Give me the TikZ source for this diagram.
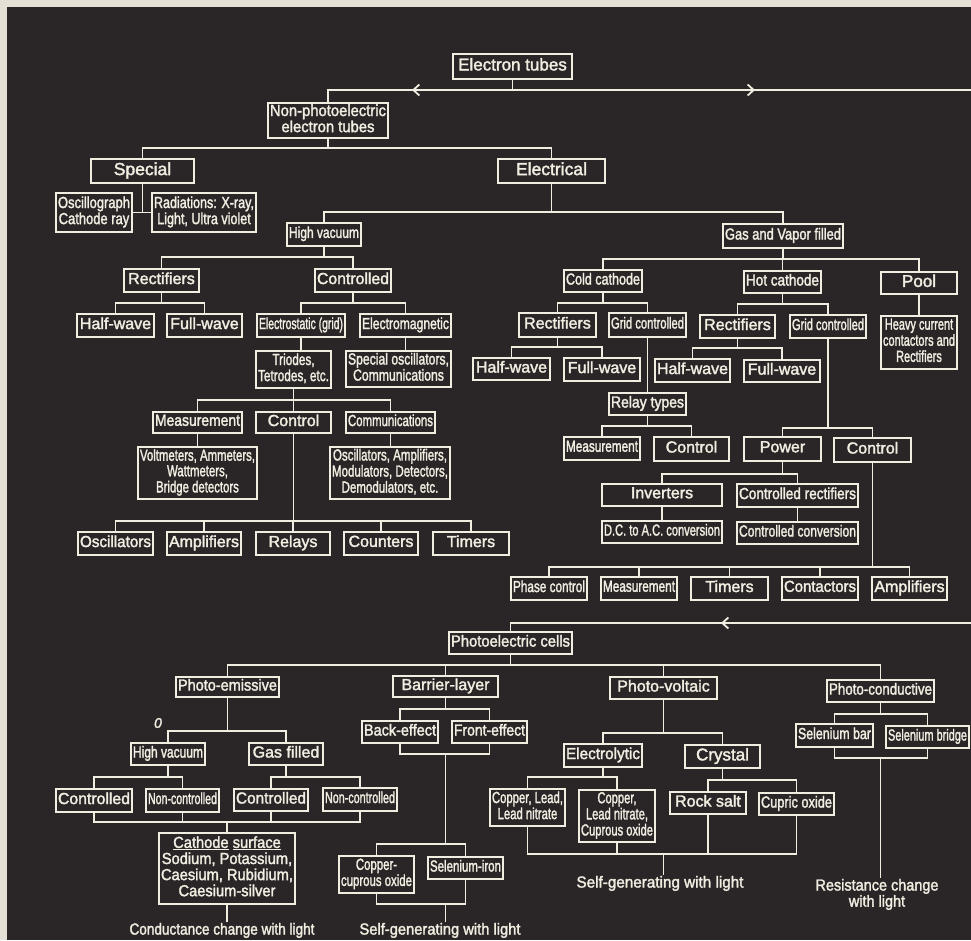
\documentclass[tikz,border=0pt]{standalone}
\usepackage{fontspec}
\setmainfont{Liberation Sans}
\newfontfamily\lf{Liberation Sans}[FakeBold=2]
\usepackage{graphicx}
\usetikzlibrary{arrows.meta,decorations.markings}
\definecolor{bg}{RGB}{42,38,40}
\definecolor{fg}{RGB}{240,238,225}
\definecolor{paper}{RGB}{228,224,214}
\newsavebox\fbx
\newlength\fbw
\newcommand\fitt[2]{\sbox\fbx{\begin{tabular}{@{}c@{}}#2\end{tabular}}\setlength\fbw{\wd\fbx}\pgfmathsetmacro\ff{min(1,(#1)/\fbw)}\scalebox{\ff}[1]{\usebox\fbx}}
\tikzset{
  bx/.style={draw=fg, line width=1.8pt, fill=bg, inner sep=0pt, text=fg},
  ln/.style={draw=fg, line width=1.8pt, line cap=rect},
  lbl/.style={text=fg, inner sep=2pt, font={\lf\fontsize{16}{15}\selectfont}},
  chev/.style={decoration={markings,#1}, postaction={decorate}},
}
\newcommand\bxn[7][16]{\node[bx,minimum width={#5-#3},minimum height={#6-#4},font={\lf\fontsize{#1}{15}\selectfont}] (#2) at ({(#3+#5)/2},{(#4+#6)/2}) {\fitt{#5-#3-4}{#7}};}
\begin{document}
\begin{tikzpicture}[x=1pt,y=-1pt,color=fg]
\useasboundingbox (0,0) rectangle (971,940);
\fill[paper] (0,0) rectangle (971,940);
\fill[bg] (7,7) rectangle (971,940);
% ---------- top ----------
\bxn[17]{et}{453}{54}{572}{79}{Electron tubes}
\bxn[16]{npe}{268}{103}{388}{138}{Non-photoelectric\\electron tubes}
\bxn[17.5]{special}{91}{159}{194}{183}{Special}
\bxn[17.5]{electrical}{498}{159}{605}{183}{Electrical}
\bxn[16]{osc}{56}{193}{132}{232}{Oscillograph\\Cathode ray}
\bxn[16]{rad}{152}{193}{256}{232}{Radiations: X-ray,\\Light, Ultra violet}
\bxn[15.5]{hv}{287}{223}{361}{246}{High vacuum}
\bxn[16]{gas}{723}{224}{843}{248}{Gas and Vapor filled}
% ---------- high vacuum ----------
\bxn{rect1}{124}{269}{199}{292}{Rectifiers}
\bxn{ctrl1}{315}{269}{391}{292}{Controlled}
\bxn{hw1}{77}{314}{154}{337}{Half-wave}
\bxn{fw1}{167}{314}{242}{337}{Full-wave}
\bxn{es}{257}{314}{345}{337}{Electrostatic (grid)}
\bxn{em}{360}{314}{451}{337}{Electromagnetic}
\bxn{tri}{256}{351}{331}{388}{Triodes,\\Tetrodes, etc.}
\bxn{so}{346}{351}{451}{387}{Special oscillators,\\Communications}
\bxn{meas1}{153}{412}{242}{433}{Measurement}
\bxn{ctl1}{256}{412}{331}{433}{Control}
\bxn{comm}{346}{412}{435}{433}{Communications}
\bxn{volt}{138}{447}{257}{499}{Voltmeters, Ammeters,\\Wattmeters,\\Bridge detectors}
\bxn{oamp}{330}{447}{450}{499}{Oscillators, Amplifiers,\\Modulators, Detectors,\\Demodulators, etc.}
\bxn{b1}{78}{532}{153}{555}{Oscillators}
\bxn{b2}{167}{532}{241}{555}{Amplifiers}
\bxn{b3}{256}{532}{330}{555}{Relays}
\bxn{b4}{344}{532}{418}{555}{Counters}
\bxn{b5}{433}{532}{509}{555}{Timers}
% ---------- gas ----------
\bxn{cold}{564}{270}{642}{292}{Cold cathode}
\bxn{hot}{744}{271}{821}{293}{Hot cathode}
\bxn[17]{pool}{881}{272}{957}{294}{Pool}
\bxn{rect2}{519}{313}{596}{337}{Rectifiers}
\bxn{gc1}{609}{313}{686}{337}{Grid controlled}
\bxn{hw2}{473}{358}{550}{380}{Half-wave}
\bxn{fw2}{564}{358}{640}{381}{Full-wave}
\bxn{relay}{609}{393}{686}{415}{Relay types}
\bxn{meas2}{564}{437}{640}{460}{Measurement}
\bxn{ctl2}{654}{437}{729}{461}{Control}
\bxn{rect3}{700}{315}{775}{338}{Rectifiers}
\bxn{gc2}{790}{315}{866}{338}{Grid controlled}
\bxn{hw3}{655}{359}{730}{382}{Half-wave}
\bxn{fw3}{744}{360}{820}{382}{Full-wave}
\bxn{power}{744}{437}{821}{461}{Power}
\bxn{ctl3}{834}{438}{911}{462}{Control}
\bxn{inv}{602}{484}{722}{506}{Inverters}
\bxn{crect}{737}{484}{858}{507}{Controlled rectifiers}
\bxn{dcac}{602}{521}{722}{543}{D.C. to A.C. conversion}
\bxn{cconv}{737}{522}{858}{544}{Controlled conversion}
\bxn{p1}{511}{577}{587}{600}{Phase control}
\bxn{p2}{601}{577}{677}{600}{Measurement}
\bxn{p3}{691}{577}{768}{600}{Timers}
\bxn{p4}{782}{577}{858}{600}{Contactors}
\bxn{p5}{872}{577}{947}{600}{Amplifiers}
\bxn{heavy}{881}{316}{957}{369}{Heavy current\\contactors and\\Rectifiers}
% ---------- photoelectric ----------
\bxn{pc}{449}{632}{572}{654}{Photoelectric cells}
\bxn{pem}{176}{677}{279}{697}{Photo-emissive}
\bxn{bar}{393}{676}{498}{697}{Barrier-layer}
\bxn{pv}{610}{677}{717}{699}{Photo-voltaic}
\bxn{pcd}{827}{680}{934}{702}{Photo-conductive}
\bxn{hv2}{131}{743}{205}{765}{High vacuum}
\bxn{gf}{249}{743}{323}{765}{Gas filled}
\bxn{c1}{56}{789}{132}{812}{Controlled}
\bxn{n1}{146}{789}{219}{812}{Non-controlled}
\bxn{c2}{234}{789}{308}{811}{Controlled}
\bxn{n2}{323}{788}{397}{811}{Non-controlled}
\bxn{cath}{159}{833}{295}{904}{\underline{Cathode} \underline{surface}\\Sodium, Potassium,\\Caesium, Rubidium,\\Caesium-silver}
\bxn{back}{362}{721}{438}{743}{Back-effect}
\bxn{front}{452}{721}{527}{743}{Front-effect}
\bxn{cu}{339}{856}{414}{893}{Copper-\\cuprous oxide}
\bxn{se}{428}{857}{503}{879}{Selenium-iron}
\bxn{elec}{564}{744}{642}{767}{Electrolytic}
\bxn[17]{cry}{685}{745}{760}{768}{Crystal}
\bxn{cl1}{490}{789}{565}{826}{Copper, Lead,\\Lead nitrate}
\bxn{cl2}{579}{790}{655}{842}{Copper,\\Lead nitrate,\\Cuprous oxide}
\bxn{rs}{670}{792}{746}{814}{Rock salt}
\bxn{co}{759}{793}{834}{815}{Cupric oxide}
\bxn{sb}{796}{724}{873}{747}{Selenium bar}
\bxn{sbr}{886}{726}{969}{748}{Selenium bridge}
\node[lbl] (t1) at (222,931) {\fitt{185}{Conductance change with light}};
\node[lbl] (t2) at (440,931) {\fitt{161}{Self-generating with light}};
\node[lbl] (t3) at (660,884) {\fitt{167}{Self-generating with light}};
\node[lbl] (t4) at (877,895) {\fitt{123}{Resistance change\\with light}};
\node[text=fg, font={\lf\itshape\fontsize{14}{14}\selectfont}, inner sep=0pt] (zero) at (158,723) {0};
% ---------- connectors: top ----------
\coordinate (j0) at (et.south |- 0,90);
\coordinate (edgeA) at (975,90);
\coordinate (edgeB) at (975,623);
\draw[ln] (et.south) -- (j0);
\draw[ln, chev={mark=at position 100.5pt with {\arrow{Straight Barb[length=6pt,width=11pt]}}}] (j0) -- (npe.north |- j0) -- (npe.north);
\draw[ln, chev={mark=at position 242.5pt with {\arrow{Straight Barb[length=6pt,width=11pt]}}, mark=at position 1249.5pt with {\arrow{Straight Barb[length=6pt,width=11pt]}}}] (j0) -- (edgeA) -- (edgeB) -- (pc.north |- edgeB) -- (pc.north);
\draw[ln] (npe.south) -- (npe.south |- 0,148);
\draw[ln] (special.north) |- (electrical.north |- 0,148) -- (electrical.north);
\draw[ln] (special.south) -- (special.south |- osc.east);
\draw[ln] (osc.east) -- (rad.west);
\draw[ln] (electrical.south) -- (electrical.south |- 0,212);
\draw[ln] (hv.north) |- (gas.north |- 0,212) -- (gas.north);
% high vacuum
\draw[ln] (hv.south) -- (hv.south |- 0,257);
\draw[ln] (rect1.north) |- (ctrl1.north |- 0,257) -- (ctrl1.north);
\draw[ln] (rect1.south) -- (rect1.south |- 0,303);
\draw[ln] (hw1.north) |- (fw1.north |- 0,303) -- (fw1.north);
\draw[ln] (ctrl1.south) -- (ctrl1.south |- 0,303);
\draw[ln] (es.north) |- (em.north |- 0,303) -- (em.north);
\draw[ln] (es.south) -- (es.south |- tri.north);
\draw[ln] (em.south) -- (em.south |- so.north);
\draw[ln] (tri.south) -- (tri.south |- 0,400);
\draw[ln] (meas1.north) |- (comm.north |- 0,400) -- (comm.north);
\draw[ln] (ctl1.north) -- (ctl1.north |- 0,400);
\draw[ln] (meas1.south) -- (meas1.south |- volt.north);
\draw[ln] (comm.south) -- (comm.south |- oamp.north);
\draw[ln] (ctl1.south) -- (ctl1.south |- 0,521);
\draw[ln] (b1.north) |- (b5.north |- 0,521) -- (b5.north);
\foreach \b in {b2,b3,b4} \draw[ln] (\b.north) -- (\b.north |- 0,521);
% gas
\draw[ln] (gas.south) -- (gas.south |- 0,259);
\draw[ln] (cold.north) |- (pool.north |- 0,259) -- (pool.north);
\draw[ln] (hot.north) -- (hot.north |- 0,259);
\draw[ln] (cold.south) -- (cold.south |- 0,303);
\draw[ln] (rect2.north) |- (gc1.north |- 0,303) -- (gc1.north);
\draw[ln] (rect2.south) -- (rect2.south |- 0,347);
\draw[ln] (hw2.north) |- (fw2.north |- 0,347) -- (fw2.north);
\draw[ln] (gc1.south) -- (gc1.south |- relay.north);
\draw[ln] (relay.south) -- (relay.south |- 0,426);
\draw[ln] (meas2.north) |- (ctl2.north |- 0,426) -- (ctl2.north);
\draw[ln] (hot.south) -- (hot.south |- 0,304);
\draw[ln] (rect3.north) |- (gc2.north |- 0,304) -- (gc2.north);
\draw[ln] (rect3.south) -- (rect3.south |- 0,348);
\draw[ln] (hw3.north) |- (fw3.north |- 0,348) -- (fw3.north);
\draw[ln] (gc2.south) -- (gc2.south |- 0,428);
\draw[ln] (power.north) |- (ctl3.north |- 0,428) -- (ctl3.north);
\draw[ln] (power.south) -- (power.south |- 0,474);
\draw[ln] (inv.north) |- (crect.north |- 0,474) -- (crect.north);
\draw[ln] (inv.south) -- (inv.south |- dcac.north);
\draw[ln] (crect.south) -- (crect.south |- cconv.north);
\draw[ln] (ctl3.south) -- (ctl3.south |- 0,567);
\draw[ln] (p1.north) |- (p5.north |- 0,567) -- (p5.north);
\foreach \b in {p2,p3,p4} \draw[ln] (\b.north) -- (\b.north |- 0,567);
\draw[ln] (pool.south) -- (pool.south |- heavy.north);
% photoelectric
\draw[ln] (pc.south) -- (pc.south |- 0,665);
\draw[ln] (pem.north) |- (pcd.north |- 0,665) -- (pcd.north);
\foreach \b in {bar,pv} \draw[ln] (\b.north) -- (\b.north |- 0,665);
\draw[ln] (pem.south) -- (pem.south |- 0,731);
\draw[ln] (hv2.north) |- (gf.north |- 0,731) -- (gf.north);
\draw[ln] (hv2.south) -- (hv2.south |- 0,777);
\draw[ln] (c1.north) |- (n1.north |- 0,777) -- (n1.north);
\draw[ln] (gf.south) -- (gf.south |- 0,777);
\draw[ln] (c2.north) |- (n2.north |- 0,777) -- (n2.north);
\draw[ln] (c1.south) |- (n2.south |- 0,822) -- (n2.south);
\foreach \b in {n1,c2} \draw[ln] (\b.south) -- (\b.south |- 0,822);
\draw[ln] (cath.north |- 0,822) -- (cath.north);
\draw[ln] (cath.south) -- (cath.south |- t1.north);
\draw[ln] (bar.south) -- (bar.south |- 0,709);
\draw[ln] (back.north) |- (front.north |- 0,709) -- (front.north);
\draw[ln] (back.south) |- (front.south |- 0,754) -- (front.south);
\draw[ln] (bar.south |- 0,754) -- (bar.south |- 0,844);
\draw[ln] (cu.north) |- (se.north |- 0,844) -- (se.north);
\draw[ln] (cu.south) |- (se.south |- 0,904) -- (se.south);
\draw[ln] (bar.south |- 0,904) -- (bar.south |- t2.north);
\draw[ln] (pv.south) -- (pv.south |- 0,733);
\draw[ln] (elec.north) |- (cry.north |- 0,733) -- (cry.north);
\draw[ln] (elec.south) -- (elec.south |- 0,777);
\draw[ln] (cl1.north) |- (cl2.north |- 0,777) -- (cl2.north);
\draw[ln] (cry.south) -- (cry.south |- 0,780);
\draw[ln] (rs.north) |- (co.north |- 0,780) -- (co.north);
\draw[ln] (cl1.south) |- (co.south |- 0,854) -- (co.south);
\foreach \b in {cl2,rs} \draw[ln] (\b.south) -- (\b.south |- 0,854);
\draw[ln] (pv.south |- 0,854) -- (pv.south |- t3.north);
\draw[ln] (pcd.south) -- (pcd.south |- 0,714);
\draw[ln] (sb.north) |- (sbr.north |- 0,714) -- (sbr.north);
\draw[ln] (sb.south) |- (sbr.south |- 0,758) -- (sbr.south);
\draw[ln] (pcd.south |- 0,758) -- (pcd.south |- t4.north);
\end{tikzpicture}
\end{document}
